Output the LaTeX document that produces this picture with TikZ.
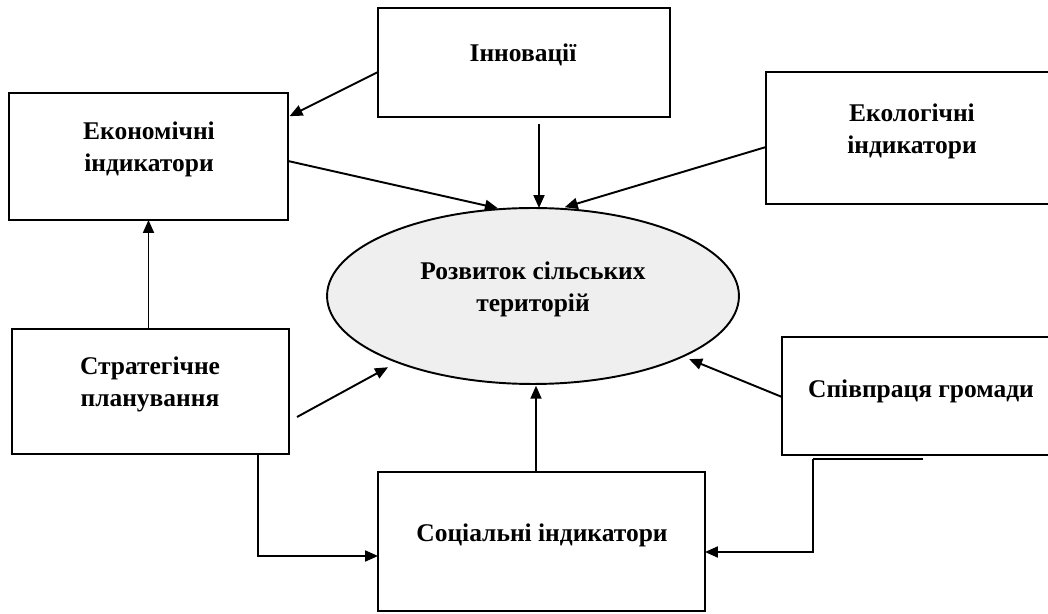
\documentclass[tikz,border=0pt]{standalone}
\usepackage{fontspec}
\setmainfont{Liberation Serif}
\usetikzlibrary{arrows.meta,shapes.geometric}
\definecolor{ovalfill}{HTML}{EFEFEF}
\begin{document}
\begin{tikzpicture}[x=0.02cm,y=-0.02cm,
    box/.style={draw, line width=1.1pt, inner sep=0pt, outer sep=0pt},
    txt/.style={font=\fontsize{14.5}{18.2}\selectfont\bfseries, align=center, inner sep=0pt},
    arr/.style={line width=1.1pt, -{Triangle[length=2.6mm,width=2.2mm]}},
    line/.style={line width=1.1pt}]
    \useasboundingbox (0,0) rectangle (1048,614);
    \node[box, minimum width=5.84cm, minimum height=2.18cm] (innov) at (524,62.5) {};
    \node[box, minimum width=5.58cm, minimum height=2.54cm] (econ) at (148.5,156.5) {};
    \node[box, minimum width=5.88cm, minimum height=2.64cm] (ecol) at (913,138) {};
    \node[draw, ellipse, fill=ovalfill, line width=1.1pt, inner sep=0pt, outer sep=0pt,
          minimum width=8.24cm, minimum height=3.52cm] (dev) at (533,296) {};
    \node[box, minimum width=5.54cm, minimum height=2.5cm] (strat) at (150.5,391.5) {};
    \node[box, minimum width=6.54cm, minimum height=2.78cm] (social) at (541.5,541.5) {};
    \node[box, minimum width=5.56cm, minimum height=2.36cm] (comm) at (921,396) {};
    \node[txt] (innovtxt) at (523,55) {Інновації};
    \node[txt] (econtxt) at (149,149) {Економічні\\індикатори};
    \node[txt] (ecoltxt) at (912,131) {Екологічні\\індикатори};
    \node[txt] (devtxt) at (533,289) {Розвиток сільських\\територій};
    \node[txt] (strattxt) at (150,384) {Стратегічне\\планування};
    \node[txt] (socialtxt) at (542,535) {Соціальні індикатори};
    \node[txt] (commtxt) at (921,391) {Співпраця громади};
    \coordinate (stratout) at (297,417);
    \coordinate (commfoot) at (813,459);
    \draw[arr, shorten >=1pt] (innov.west |- 0,72) -- (econ.east |- 0,117);
    \draw[arr, shorten >=2pt] (econ.east |- 0,161) -- (dev.110);
    \draw[arr, shorten <=4pt] (innov.south -| 539,0) -- (dev.north -| 539,0);
    \draw[arr, shorten >=3pt] (ecol.west |- 0,147) -- (dev.73);
    \draw[arr] (strat.north -| econ.south) -- (econ.south);
    \draw[arr, shorten >=6pt] (stratout) -- (dev.206);
    \draw[arr, shorten >=1pt] (social.north -| 536,0) -- (dev.south -| 536,0);
    \draw[arr, shorten >=4pt] (comm.west |- 0,397) -- (dev.-22);
    \draw[arr] (strat.south -| 258,0) |- (social.west |- 0,556);
    \draw[line] (commfoot) -- ++(110,0);
    \draw[arr] (commfoot) |- (social.east |- 0,552);
\end{tikzpicture}
\end{document}
